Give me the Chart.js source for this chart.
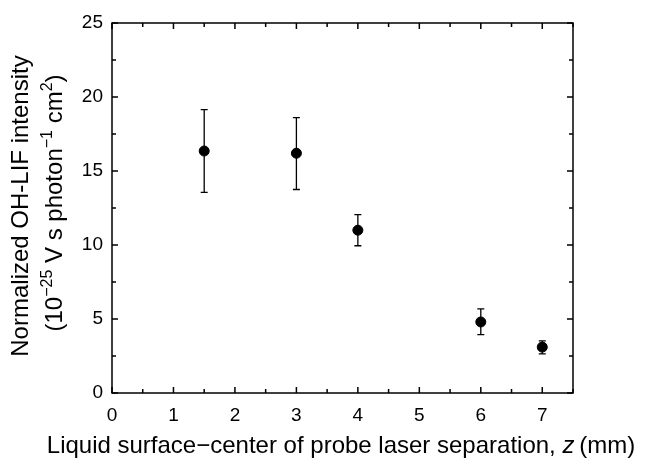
<!DOCTYPE html>
<html>
<head>
<meta charset="utf-8">
<script src="https://cdn.jsdelivr.net/npm/chart.js@4"></script>
<style>
  html, body { margin: 0; padding: 0; background: #fff; }
  #wrap { width: 647px; height: 460px; }
</style>
</head>
<body>
<div id="wrap"><canvas id="lifChart" width="647" height="460"></canvas></div>
<script>
// separation z (mm) and normalized OH-LIF intensity
const zValues = [1.5, 3, 4, 6, 7];
const intensity = [16.35, 16.2, 11.0, 4.8, 3.1];
const errLow = [13.55, 13.75, 9.95, 3.95, 2.65];
const errHigh = [19.15, 18.6, 12.05, 5.68, 3.52];

const xTicks = [0, 1, 2, 3, 4, 5, 6, 7];
const yTicks = [0, 5, 10, 15, 20, 25];

const FONT = "'Liberation Sans', Arial, sans-serif";

// error bars, frame and inward ticks
const decorPlugin = {
  id: 'decor',
  afterDatasetsDraw(chart) {
    const ctx = chart.ctx;
    const xs = chart.scales.x, ys = chart.scales.y;
    ctx.save();
    ctx.strokeStyle = '#000';
    ctx.lineWidth = 1.3;
    zValues.forEach((z, i) => {
      const px = xs.getPixelForValue(z);
      const top = ys.getPixelForValue(errHigh[i]);
      const bot = ys.getPixelForValue(errLow[i]);
      ctx.beginPath();
      ctx.moveTo(px, top); ctx.lineTo(px, bot);
      ctx.moveTo(px - 3.5, top); ctx.lineTo(px + 3.5, top);
      ctx.moveTo(px - 3.5, bot); ctx.lineTo(px + 3.5, bot);
      ctx.stroke();
    });
    ctx.restore();
  },
  afterDraw(chart) {
    const ctx = chart.ctx;
    const a = chart.chartArea;
    const xs = chart.scales.x, ys = chart.scales.y;
    ctx.save();
    ctx.strokeStyle = '#000';
    ctx.lineWidth = 1.5;
    ctx.strokeRect(a.left, a.top, a.right - a.left, a.bottom - a.top);
    ctx.beginPath();
    for (let v = xs.min; v <= xs.max + 1e-9; v += 0.5) {
      const p = xs.getPixelForValue(v);
      const len = Math.abs(v - Math.round(v)) < 1e-9 ? 6 : 4;
      ctx.moveTo(p, a.bottom); ctx.lineTo(p, a.bottom - len);
      ctx.moveTo(p, a.top); ctx.lineTo(p, a.top + len);
    }
    for (let v = ys.min; v <= ys.max + 1e-9; v += 2.5) {
      const p = ys.getPixelForValue(v);
      const len = Math.abs(v / 5 - Math.round(v / 5)) < 1e-9 ? 6 : 4;
      ctx.moveTo(a.left, p); ctx.lineTo(a.left + len, p);
      ctx.moveTo(a.right, p); ctx.lineTo(a.right - len, p);
    }
    ctx.stroke();

    // axis titles with super/italic parts
    ctx.fillStyle = '#000';
    ctx.textBaseline = 'alphabetic';
    const drawRuns = (runs, cx, cy) => {
      let total = 0;
      runs.forEach(r => { ctx.font = r.font; total += ctx.measureText(r.t).width; });
      let x = cx - total / 2;
      runs.forEach(r => {
        ctx.font = r.font;
        ctx.fillText(r.t, x, cy + (r.dy || 0));
        x += ctx.measureText(r.t).width;
      });
    };
    const norm = '24px ' + FONT, sup = '16px ' + FONT, ital = 'italic 24px ' + FONT;
    drawRuns([
      { t: 'Liquid surface\u2212center of probe laser separation, ', font: norm },
      { t: 'z', font: ital },
      { t: '\u2009(mm)', font: norm }
    ], 341, 453);

    ctx.save();
    ctx.translate(28, 206);
    ctx.rotate(-Math.PI / 2);
    drawRuns([{ t: 'Normalized OH-LIF intensity', font: norm }], 0, 0);
    drawRuns([
      { t: '(10', font: norm },
      { t: '\u221225', font: sup, dy: -10 },
      { t: ' V s photon', font: norm },
      { t: '\u22121', font: sup, dy: -10 },
      { t: ' cm', font: norm },
      { t: '2', font: sup, dy: -10 },
      { t: ')', font: norm }
    ], 3, 34);
    ctx.restore();
    ctx.restore();
  }
};

new Chart(document.getElementById('lifChart'), {
  type: 'scatter',
  data: {
    datasets: [{
      data: zValues.map((z, i) => ({ x: z, y: intensity[i] })),
      backgroundColor: '#000',
      borderColor: '#000',
      pointRadius: 5,
      pointHoverRadius: 5
    }]
  },
  options: {
    responsive: false,
    animation: false,
    layout: { padding: { left: 0, right: 74, top: 23, bottom: 0 } },
    plugins: { legend: { display: false }, tooltip: { enabled: false } },
    scales: {
      x: {
        type: 'linear', min: 0, max: 7.5,
        afterFit: s => { s.height = 67; },
        afterBuildTicks: s => { s.ticks = xTicks.map(v => ({ value: v })); },
        grid: { display: false, drawTicks: false },
        border: { display: false },
        ticks: { color: '#000', padding: 11, font: { family: FONT, size: 19 } }
      },
      y: {
        type: 'linear', min: 0, max: 25,
        afterFit: s => { s.width = 112; },
        afterBuildTicks: s => { s.ticks = yTicks.map(v => ({ value: v })); },
        grid: { display: false, drawTicks: false },
        border: { display: false },
        ticks: { color: '#000', padding: 9, font: { family: FONT, size: 19 } }
      }
    }
  },
  plugins: [decorPlugin]
});
</script>
</body>
</html>
